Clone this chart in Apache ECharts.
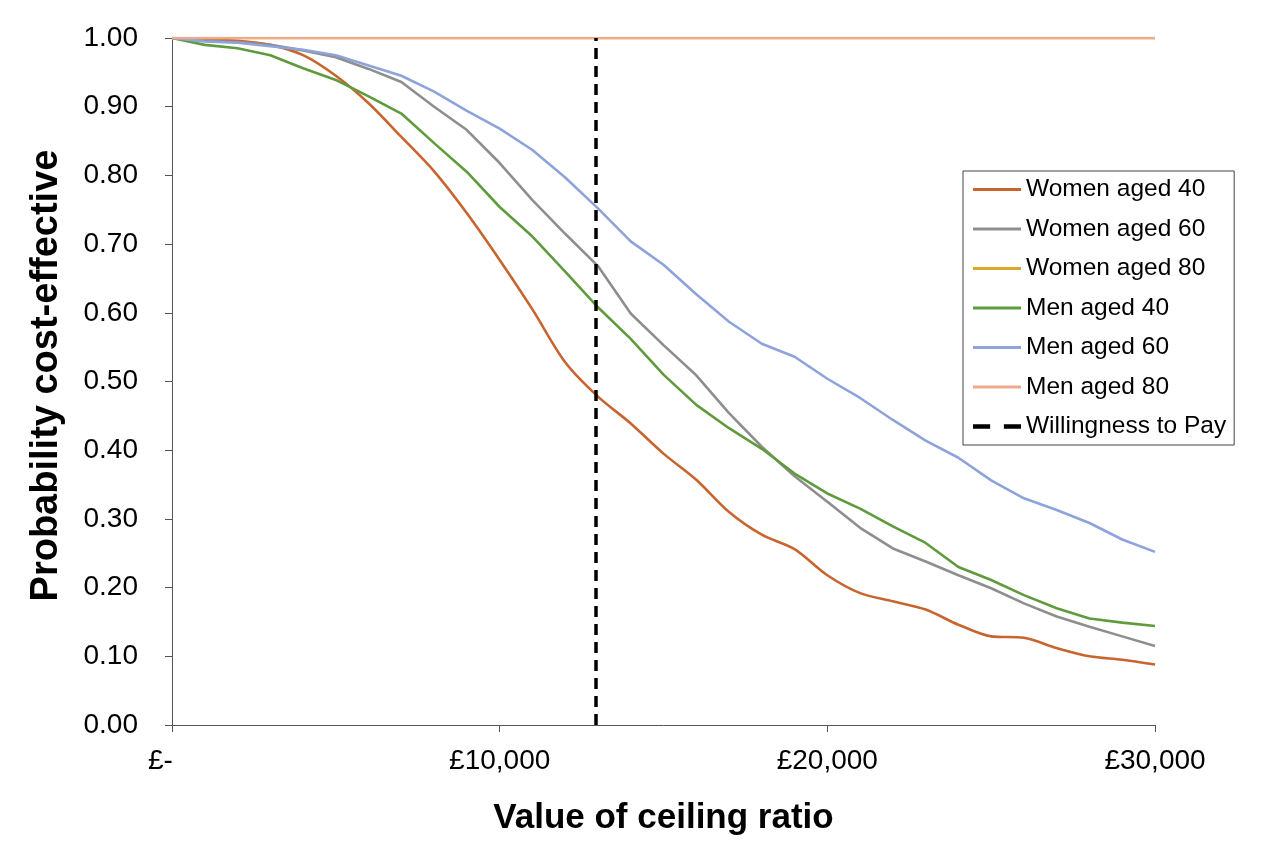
<!DOCTYPE html>
<html>
<head>
<meta charset="utf-8">
<script src="https://cdn.jsdelivr.net/npm/echarts@6/dist/echarts.min.js"></script>
<style>
html,body{margin:0;padding:0;background:#fff;}
#chart{width:1280px;height:866px;}
</style>
</head>
<body>
<div id="chart"></div>
<script>
// ceiling ratio values (GBP)
var ceiling = [0,1000,2000,3000,4000,5000,6000,7000,8000,9000,10000,11000,12000,13000,14000,15000,
	16000,17000,18000,19000,20000,21000,22000,23000,24000,25000,26000,27000,28000,29000,30000];

var women40 = [1.000,0.998,0.996,0.990,0.975,0.945,0.905,0.856,0.806,0.745,0.677,0.605,0.528,0.478,0.439,0.395,
	0.357,0.310,0.277,0.256,0.218,0.192,0.180,0.168,0.146,0.129,0.127,0.112,0.100,0.095,0.088];
var women60 = [1.000,0.996,0.994,0.990,0.982,0.972,0.955,0.936,0.900,0.866,0.818,0.764,0.715,0.668,0.599,0.553,
	0.509,0.454,0.405,0.362,0.325,0.287,0.257,0.238,0.218,0.199,0.177,0.158,0.143,0.129,0.115];
var women80 = [1,1,1,1,1,1,1,1,1,1,1,1,1,1,1,1,1,1,1,1,1,1,1,1,1,1,1,1,1,1,1];
var men40 = [1.000,0.990,0.985,0.975,0.956,0.939,0.915,0.890,0.847,0.805,0.754,0.711,0.660,0.608,0.562,0.510,
	0.466,0.432,0.402,0.366,0.337,0.315,0.289,0.265,0.230,0.211,0.189,0.170,0.155,0.149,0.144];
var men60 = [1.000,0.995,0.993,0.988,0.983,0.975,0.960,0.945,0.922,0.894,0.868,0.837,0.797,0.752,0.704,0.670,
	0.627,0.587,0.555,0.536,0.504,0.476,0.444,0.414,0.389,0.356,0.330,0.313,0.294,0.270,0.252];
var men80 = [1,1,1,1,1,1,1,1,1,1,1,1,1,1,1,1,1,1,1,1,1,1,1,1,1,1,1,1,1,1,1];

var wtpValue = 12940;
var wtpRange = [0, 1];

var seriesNames = ['Women aged 40','Women aged 60','Women aged 80','Men aged 40','Men aged 60','Men aged 80'];
var seriesColors = ['#C8652F','#8E8E8E','#D9A92E','#5F9B3C','#8EA3DA','#EDAA8E'];
var seriesValues = [women40, women60, women80, men40, men60, men80];

var lineIcon = 'path://M0,0h48v3h-48z';
var dashIcon = 'path://M0,0h15v4h-15z M27,0h15v4h-15z';

function pairs(xs, ys){
	var out = [];
	for(var i = 0; i < xs.length; i++){
		out.push([xs[i], ys[i]]);
	}
	return out;
}

var series = [];
var legendData = [];
for(var i = 0; i < seriesNames.length; i++){
	series.push({
		name: seriesNames[i],
		type: 'line',
		data: pairs(ceiling, seriesValues[i]),
		symbol: 'none',
		smooth: i == 0 ? 0.3 : false,
		color: seriesColors[i],
		lineStyle: {width: 2.6, color: seriesColors[i]}
	});
	legendData.push({name: seriesNames[i], icon: lineIcon});
}
//意愿支付阈值
series.push({
	name: 'Willingness to Pay',
	type: 'line',
	data: [[wtpValue, wtpRange[0]], [wtpValue, wtpRange[1]]],
	symbol: 'none',
	color: '#000',
	lineStyle: {width: 3.5, color: '#000', type: [11, 7]},
	z: 5
});
legendData.push({name: 'Willingness to Pay', icon: dashIcon});

var myChart = echarts.init(document.getElementById('chart'));
myChart.setOption({
	animation: false,
	backgroundColor: '#fff',
	textStyle: {fontFamily: 'Liberation Sans, Arial, sans-serif'},
	grid: {left: 172, right: 125, top: 38, bottom: 141},
	legend: {
		orient: 'vertical',
		left: 963,
		top: 171,
		padding: [6, 8, 6, 10],
		itemGap: 14.5,
		itemWidth: 48,
		itemHeight: 22,
		borderColor: '#444',
		borderWidth: 1,
		textStyle: {fontSize: 24.5, color: '#000', fontFamily: 'Liberation Sans, Arial, sans-serif'},
		data: legendData
	},
	xAxis: {
		type: 'value',
		min: 0,
		max: 30000,
		interval: 10000,
		name: 'Value of ceiling ratio',
		nameLocation: 'middle',
		nameGap: 76,
		nameTextStyle: {fontSize: 35, fontWeight: 'bold', color: '#000'},
		axisLine: {lineStyle: {color: '#555', width: 1}},
		axisTick: {show: true, length: 7, lineStyle: {color: '#555'}},
		splitLine: {show: false},
		axisLabel: {
			fontSize: 28,
			color: '#000',
			margin: 22,
			formatter: function(v){
				if(v == 0) return '£-   ';
				return '£' + v.toLocaleString('en-GB');
			}
		}
	},
	yAxis: {
		type: 'value',
		min: 0,
		max: 1,
		interval: 0.1,
		name: 'Probability cost-effective',
		nameLocation: 'middle',
		nameGap: 106,
		nameTextStyle: {fontSize: 38, fontWeight: 'bold', color: '#000', padding: [0, 0, 0, 12]},
		axisLine: {show: true, lineStyle: {color: '#555', width: 1}},
		axisTick: {show: true, length: 7, lineStyle: {color: '#555'}},
		splitLine: {show: false},
		axisLabel: {
			fontSize: 28,
			color: '#000',
			margin: 34,
			formatter: function(v){ return v.toFixed(2); }
		}
	},
	series: series
});
</script>
</body>
</html>
